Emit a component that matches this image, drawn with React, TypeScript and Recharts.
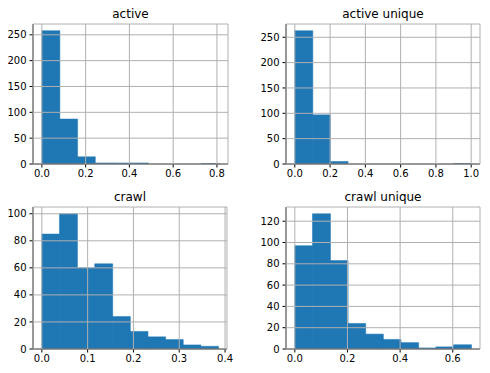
import React from 'react';
import { BarChart, Bar, XAxis, YAxis, CartesianGrid } from 'recharts';

const activeCounts = [258, 87, 14, 2, 2, 2, 0, 0, 0, 1];
const activeMax = 0.81;
const activeXTicks = [0, 0.2, 0.4, 0.6, 0.8];
const activeYTicks = [0, 50, 100, 150, 200, 250];

const activeUniqueCounts = [263, 97, 5, 0, 0, 0, 0, 0, 0, 1];
const activeUniqueMax = 1.0;
const activeUniqueXTicks = [0, 0.2, 0.4, 0.6, 0.8, 1.0];
const activeUniqueYTicks = [0, 50, 100, 150, 200, 250];

const crawlCounts = [85, 100, 60, 63, 24, 13, 9, 7, 3, 2];
const crawlMax = 0.385;
const crawlXTicks = [0, 0.1, 0.2, 0.3, 0.4];
const crawlYTicks = [0, 20, 40, 60, 80, 100];

const crawlUniqueCounts = [97, 127, 83, 24, 14, 9, 6, 1, 2, 4];
const crawlUniqueMax = 0.67;
const crawlUniqueXTicks = [0, 0.2, 0.4, 0.6];
const crawlUniqueYTicks = [0, 20, 40, 60, 80, 100, 120];

const BLUE = '#1f77b4';
const GRID = '#b0b0b0';
const FONT = '"DejaVu Sans", sans-serif';

type PanelProps = {
  title: string;
  counts: number[];
  max: number;
  xTicks: number[];
  yTicks: number[];
  left: number;
  top: number;
  width: number;
  height: number;
  margin: { top: number; right: number; bottom: number; left: number };
  yAxisWidth: number;
  xAxisHeight: number;
};

function Panel(p: PanelProps) {
  const binW = p.max / p.counts.length;
  const data = p.counts.map((c, i) => ({ x: (i + 0.5) * binW, count: c }));
  const xDomain = [-0.05 * p.max, 1.05 * p.max];
  const yMax = Math.max(...p.counts) * 1.05;
  const tickStyle = { fill: '#000', fontSize: 10, fontFamily: FONT };
  const plotLeft = p.margin.left + p.yAxisWidth;
  const plotWidth = p.width - p.margin.left - p.margin.right - p.yAxisWidth;
  return (
    <div style={{ position: 'absolute', left: p.left, top: p.top, width: p.width, height: p.height }}>
      <div
        style={{
          position: 'absolute',
          left: plotLeft,
          width: plotWidth,
          top: p.margin.top - 17.5,
          height: 14,
          lineHeight: '14px',
          fontSize: 12,
          fontFamily: FONT,
          color: '#000',
          textAlign: 'center',
          whiteSpace: 'nowrap',
        }}
      >
        {p.title}
      </div>
      <BarChart
        width={p.width}
        height={p.height}
        data={data}
        margin={p.margin}
        barCategoryGap={0}
        barGap={0}
      >
        <XAxis
          xAxisId="b"
          dataKey="x"
          type="number"
          domain={xDomain}
          ticks={p.xTicks}
          allowDataOverflow
          tickFormatter={(v: number) => v.toFixed(1)}
          tick={tickStyle}
          tickSize={3.5}
          tickMargin={2}
          height={p.xAxisHeight}
          axisLine={{ stroke: '#000', strokeWidth: 1 }}
          tickLine={{ stroke: '#000', strokeWidth: 1 }}
          interval={0}
        />
        <XAxis
          xAxisId="t"
          orientation="top"
          dataKey="x"
          type="number"
          domain={xDomain}
          allowDataOverflow
          height={0}
          tick={false}
          tickLine={false}
          axisLine={{ stroke: '#000', strokeWidth: 1 }}
        />
        <YAxis
          yAxisId="l"
          type="number"
          domain={[0, yMax]}
          ticks={p.yTicks}
          allowDataOverflow
          width={p.yAxisWidth}
          tick={tickStyle}
          tickSize={3.5}
          tickMargin={3}
          axisLine={{ stroke: '#000', strokeWidth: 1 }}
          tickLine={{ stroke: '#000', strokeWidth: 1 }}
          interval={0}
        />
        <YAxis
          yAxisId="r"
          orientation="right"
          type="number"
          domain={[0, yMax]}
          allowDataOverflow
          width={0}
          tick={false}
          tickLine={false}
          axisLine={{ stroke: '#000', strokeWidth: 1 }}
        />
        <Bar
          xAxisId="b"
          yAxisId="l"
          dataKey="count"
          fill={BLUE}
          stroke={BLUE}
          strokeWidth={0.5}
          isAnimationActive={false}
        />
        <CartesianGrid
          xAxisId="b"
          yAxisId="l"
          stroke={GRID}
          strokeWidth={1}
          {...({ zIndex: 600 } as any)}
        />
      </BarChart>
    </div>
  );
}

export default function App() {
  return (
    <div
      style={{
        position: 'absolute',
        left: 0,
        top: 0,
        width: 490,
        height: 373,
        background: '#fff',
        fontFamily: FONT,
      }}
    >
      <Panel
        title="active"
        counts={activeCounts}
        max={activeMax}
        xTicks={activeXTicks}
        yTicks={activeYTicks}
        left={0}
        top={0}
        width={240}
        height={186}
        margin={{ top: 24, right: 12, bottom: 0, left: 0 }}
        yAxisWidth={33}
        xAxisHeight={22}
      />
      <Panel
        title="active unique"
        counts={activeUniqueCounts}
        max={activeUniqueMax}
        xTicks={activeUniqueXTicks}
        yTicks={activeUniqueYTicks}
        left={245}
        top={0}
        width={245}
        height={186}
        margin={{ top: 24, right: 10, bottom: 0, left: 0 }}
        yAxisWidth={41}
        xAxisHeight={22}
      />
      <Panel
        title="crawl"
        counts={crawlCounts}
        max={crawlMax}
        xTicks={crawlXTicks}
        yTicks={crawlYTicks}
        left={0}
        top={186}
        width={240}
        height={187}
        margin={{ top: 21, right: 13, bottom: 0, left: 0 }}
        yAxisWidth={33}
        xAxisHeight={24}
      />
      <Panel
        title="crawl unique"
        counts={crawlUniqueCounts}
        max={crawlUniqueMax}
        xTicks={crawlUniqueXTicks}
        yTicks={crawlUniqueYTicks}
        left={245}
        top={186}
        width={245}
        height={187}
        margin={{ top: 21, right: 10, bottom: 0, left: 0 }}
        yAxisWidth={41}
        xAxisHeight={24}
      />
    </div>
  );
}
